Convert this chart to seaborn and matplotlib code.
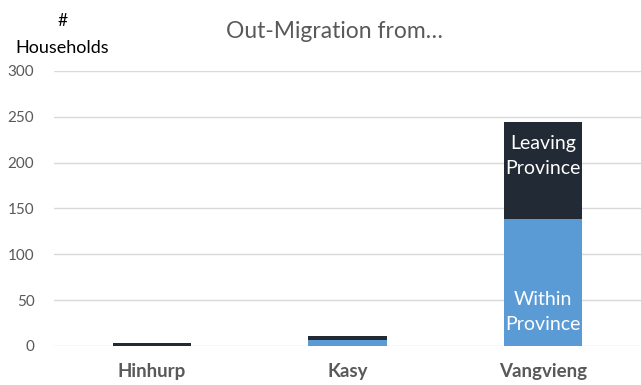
import matplotlib
matplotlib.use("Agg")
import matplotlib.pyplot as plt
import seaborn as sns
import pandas as pd

districts = ["Hinhurp", "Kasy", "Vangvieng"]
within_province = [0, 7, 138]
leaving_province = [3, 4, 106]
y_ticks = [0, 50, 100, 150, 200, 250, 300]

totals = [w + l for w, l in zip(within_province, leaving_province)]
df = pd.DataFrame({"district": districts, "within": within_province, "total": totals})

sns.set_theme(style="white")
plt.rcParams["font.family"] = ["Lato", "DejaVu Sans"]

fig = plt.figure(figsize=(6.41, 3.85), dpi=100)
ax = fig.add_axes([0.084, 0.1013, 0.916, 0.7143])

dark = "#222a35"
blue = "#5b9bd5"
sns.barplot(data=df, x="district", y="total", color=dark, width=0.4, ax=ax,
            saturation=1, edgecolor="none", zorder=3)
sns.barplot(data=df, x="district", y="within", color=blue, width=0.4, ax=ax,
            saturation=1, edgecolor="none", zorder=3)

ax.set_ylim(0, 300)
ax.set_xlim(-0.5, 2.5)
ax.set_yticks(y_ticks)
ax.set_yticklabels([str(t) for t in y_ticks], fontsize=11, color="#595959")
ax.yaxis.grid(True, color="#d9d9d9", linewidth=1.0, zorder=0)
ax.set_axisbelow(True)
for s in ax.spines.values():
    s.set_visible(False)
ax.tick_params(axis="both", length=0)
ax.tick_params(axis="y", pad=14)
ax.tick_params(axis="x", pad=12)
ax.set_xticks(range(len(districts)))
ax.set_xticklabels(districts, fontsize=13.5, fontweight="bold", color="#595959")
ax.set_xlabel("")
ax.set_ylabel("")

fig.text(0.521, 0.918, "Out-Migration from\u2026", ha="center", va="center",
         fontsize=16.5, color="#595959")
fig.text(0.097, 0.945, "#", ha="center", va="center", fontsize=12.5, color="black")
fig.text(0.097, 0.876, "Households", ha="center", va="center", fontsize=13, color="black")

ax.text(2, 207, "Leaving\nProvince", ha="center", va="center", color="white",
        fontsize=14, linespacing=1.6, zorder=4)
ax.text(2, 37, "Within\nProvince", ha="center", va="center", color="white",
        fontsize=14, linespacing=1.6, zorder=4)

fig.savefig("out.png", dpi=100)
